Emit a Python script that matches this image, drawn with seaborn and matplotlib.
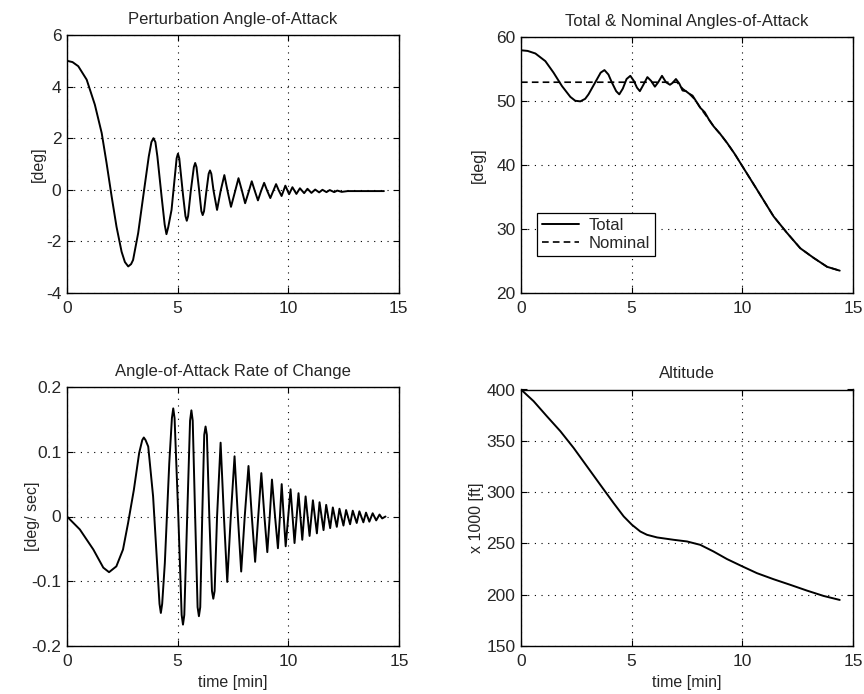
import numpy as np
import pandas as pd
import matplotlib
matplotlib.use("Agg")
import matplotlib.pyplot as plt
import seaborn as sns

# ---------------- data ----------------
pert_t = [0, 0.25, 0.51, 0.89, 1.26, 1.57, 1.79, 2.02, 2.24, 2.47, 2.62, 2.77, 2.9, 2.99, 3.22, 3.49,
          3.70, 3.82, 3.91, 4.0, 4.09, 4.28, 4.42, 4.5, 4.58, 4.73, 4.91, 4.96, 5.02, 5.08, 5.25,
          5.36, 5.42, 5.48, 5.60, 5.74, 5.80, 5.86, 5.97, 6.08, 6.14, 6.20, 6.3, 6.41, 6.47, 6.53,
          6.63, 6.79, 6.95, 7.12, 7.27, 7.42, 7.6, 7.76, 7.92,
          8.06, 8.22, 8.36, 8.5, 8.64, 8.78, 8.92, 9.06, 9.2, 9.34, 9.46, 9.58, 9.71, 9.8, 9.88,
          10.05, 10.2, 10.38, 10.54, 10.73, 10.88, 11.06, 11.23, 11.41, 11.56, 11.74, 11.89,
          12.09, 12.23, 12.43, 12.7, 14.34]
pert_v = [5.0, 4.95, 4.79, 4.27, 3.30, 2.2, 1.04, -0.26, -1.43, -2.40, -2.8, -2.97, -2.88, -2.72, -1.68, 0.0,
          1.29, 1.85, 2.0, 1.85, 1.29, -0.26, -1.35, -1.72, -1.45, -0.78, 0.78, 1.22, 1.40, 1.22, -0.2,
          -1.02, -1.2, -1.02, -0.05, 0.88, 1.04, 0.88, 0.05, -0.83, -0.98, -0.83, -0.1, 0.62, 0.75, 0.62,
          -0.03, -0.78, -0.05, 0.57, -0.07, -0.66, -0.08, 0.45, -0.05,
          -0.52, -0.08, 0.33, -0.05, -0.41, -0.05, 0.27, -0.04, -0.32, -0.03, 0.22, -0.02, -0.24, -0.03, 0.16,
          -0.17, 0.10, -0.16, 0.06, -0.13, 0.04, -0.12, 0.01, -0.10, 0.0, -0.09, -0.01,
          -0.09, -0.03, -0.08, -0.05, -0.05]

total_t = [0, 0.3, 0.65, 1.1, 1.47, 1.85, 2.23, 2.45, 2.68, 2.9, 3.05, 3.43, 3.6, 3.77, 3.95, 4.1, 4.3,
           4.44, 4.6, 4.77, 4.94, 5.1, 5.24, 5.37, 5.53, 5.71, 5.88, 6.05, 6.2, 6.37, 6.55, 6.73,
           6.85, 7.0, 7.15, 7.3, 7.45, 7.6, 7.75, 7.88, 8.1, 8.3, 8.5, 8.7, 9.0, 9.31, 9.65, 10.01,
           10.66, 11.41, 12.02, 12.62, 13.22, 13.83, 14.4]
total_v = [58.0, 57.9, 57.5, 56.3, 54.5, 52.4, 50.7, 50.1, 50.0, 50.4, 51.1, 53.45, 54.5, 54.9, 54.2, 53.0, 51.6,
           51.1, 52.0, 53.5, 54.0, 53.2, 52.15, 51.6, 52.6, 53.8, 53.2, 52.3, 53.0, 54.0, 53.0, 52.6,
           52.9, 53.5, 52.8, 51.7, 51.6, 51.2, 50.9, 50.2, 49.0, 48.3, 47.1, 46.1, 44.9, 43.5, 41.8, 39.8,
           36.2, 32.0, 29.4, 27.0, 25.5, 24.1, 23.5]
nominal_t = [0, 7.05, 7.3, 7.6, 7.88, 8.1, 8.5, 8.7, 9.0, 9.31, 9.65, 10.01, 10.66, 11.41, 12.02,
             12.62, 13.22, 13.83, 14.4]
nominal_v = [53.0, 53.0, 52.0, 51.2, 50.2, 49.0, 47.1, 46.1, 44.9, 43.5, 41.8, 39.8, 36.2, 32.0, 29.4,
             27.0, 25.5, 24.1, 23.5]

rate_t = [0, 0.58, 1.19, 1.64, 1.9, 2.23, 2.53, 2.76, 3.02, 3.26, 3.40, 3.47, 3.55, 3.67, 3.89, 4.07,
          4.18, 4.24, 4.30, 4.42, 4.62, 4.74, 4.8, 4.86, 5.03, 5.18, 5.24, 5.30, 5.43, 5.56, 5.62,
          5.68, 5.79, 5.90, 5.96, 6.02, 6.11, 6.20, 6.26, 6.32, 6.43, 6.55, 6.61, 6.67, 6.78, 6.94, 7.09,
          7.24, 7.4, 7.57, 7.72, 7.87, 8.03, 8.2, 8.35, 8.5, 8.64, 8.78, 8.92, 9.05, 9.16, 9.26,
          9.4, 9.53, 9.62, 9.70, 9.79, 9.88, 10.1, 10.28, 10.46, 10.63, 10.78, 10.96, 11.11, 11.29,
          11.41, 11.59, 11.71, 11.89, 12.01, 12.19, 12.31, 12.49, 12.61, 12.79, 12.91, 13.09, 13.21,
          13.39, 13.51, 13.66, 13.81, 13.97, 14.12, 14.24, 14.39]
rate_v = [0.0, -0.020, -0.051, -0.079, -0.086, -0.077, -0.051, -0.010, 0.041, 0.098, 0.118, 0.122, 0.118,
          0.108, 0.031, -0.072, -0.135, -0.149, -0.135, -0.072, 0.082, 0.152, 0.167, 0.152, 0.0,
          -0.152, -0.167, -0.152, 0.0, 0.148, 0.164, 0.148, 0.0, -0.140, -0.154, -0.140, 0.0,
          0.126, 0.139, 0.126, 0.0, -0.115, -0.127, -0.115, 0.0, 0.114, 0.0,
          -0.101, 0.0, 0.093, 0.0, -0.085, 0.0, 0.078, 0.0,
          -0.070, 0.0, 0.067, 0.0, -0.055, 0.0, 0.057, 0.0, -0.049, 0.0, 0.050, 0.0, -0.046, 0.042,
          -0.041, 0.036, -0.036, 0.031, -0.030, 0.025, -0.026, 0.022, -0.021, 0.018, -0.018, 0.014,
          -0.016, 0.012, -0.014, 0.010, -0.012, 0.009, -0.010, 0.008, -0.009, 0.006, -0.008, 0.005,
          -0.006, 0.003, -0.003, 0.0]

alt_t = [0, 0.57, 1.17, 1.78, 2.38, 2.98, 3.58, 4.18, 4.64, 5.01, 5.39, 5.69, 6.15, 6.9, 7.5, 8.1,
         8.7, 9.31, 10.01, 10.66, 11.41, 12.17, 12.92, 13.67, 14.4]
alt_v = [400, 388.6, 373.9, 359.3, 343.0, 325.1, 307.2, 289.4, 276.3, 268.2, 261.6, 258.4, 255.8,
         253.5, 251.9, 248.6, 242.1, 234.7, 227.5, 221.0, 215.1, 209.6, 204.0, 198.8, 194.9]

x_ticks = [0, 5, 10, 15]

# ---------------- style ----------------
sns.set_style("white")
plt.rcParams["font.family"] = ["Liberation Sans", "DejaVu Sans"]
plt.rcParams["axes.unicode_minus"] = False

fig = plt.figure(figsize=(8.64, 6.94), dpi=100)
W, H = 864.0, 694.0

def box(l, t, r, b):
    return [l / W, 1 - b / H, (r - l) / W, (b - t) / H]

ax_tl = fig.add_axes(box(67, 35, 398.5, 293))
ax_tr = fig.add_axes(box(521, 37.5, 853, 293))
ax_bl = fig.add_axes(box(67, 387, 399, 646))
ax_br = fig.add_axes(box(521, 389.5, 853, 646))

LW = 1.4
df_pert = pd.DataFrame({"t": pert_t, "v": pert_v})
df_tot = pd.DataFrame({"t": total_t, "v": total_v})
df_nom = pd.DataFrame({"t": nominal_t, "v": nominal_v})
df_rate = pd.DataFrame({"t": rate_t, "v": rate_v})
df_alt = pd.DataFrame({"t": alt_t, "v": alt_v})

sns.lineplot(data=df_pert, x="t", y="v", ax=ax_tl, color="black", lw=LW)
sns.lineplot(data=df_tot, x="t", y="v", ax=ax_tr, color="black", lw=LW, label="Total")
sns.lineplot(data=df_nom, x="t", y="v", ax=ax_tr, color="black", lw=1.2, label="Nominal",
             linestyle=(0, (4.0, 2.5)))
sns.lineplot(data=df_rate, x="t", y="v", ax=ax_bl, color="black", lw=LW)
sns.lineplot(data=df_alt, x="t", y="v", ax=ax_br, color="black", lw=LW)

cfg = [
    (ax_tl, "Perturbation Angle-of-Attack", "[deg]", (-4, 6), [-4, -2, 0, 2, 4, 6], ["-4", "-2", "0", "2", "4", "6"], False, -0.063),
    (ax_tr, "Total & Nominal Angles-of-Attack", "[deg]", (20, 60), [20, 30, 40, 50, 60], ["20", "30", "40", "50", "60"], False, -0.105),
    (ax_bl, "Angle-of-Attack Rate of Change", "[deg/ sec]", (-0.2, 0.2), [-0.2, -0.1, 0, 0.1, 0.2], ["-0.2", "-0.1", "0", "0.1", "0.2"], True, -0.081),
    (ax_br, "Altitude", "x 1000 [ft]", (150, 400), [150, 200, 250, 300, 350, 400], ["150", "200", "250", "300", "350", "400"], True, -0.111),
]

for ax, title, ylab, ylim, yt, ytl, xl, ylx in cfg:
    ax.set_xlim(0, 15)
    ax.set_ylim(*ylim)
    ax.set_xticks(x_ticks)
    ax.set_xticklabels([str(v) for v in x_ticks])
    ax.set_yticks(yt)
    ax.set_yticklabels(ytl)
    ax.set_title(title, fontsize=12, pad=8)
    ax.set_ylabel(ylab, fontsize=11.5)
    ax.yaxis.set_label_coords(ylx, 0.5)
    ax.set_xlabel("time [min]" if xl else "", fontsize=11.5, labelpad=4)
    ax.grid(True, color="black", linestyle=(0, (1, 5)), linewidth=0.8)
    ax.tick_params(direction="in", length=4, width=0.8, labelsize=12.5, pad=4, color="black",
                   top=True, right=True, bottom=True, left=True)
    ax.tick_params(axis="x", pad=6)
    for s in ax.spines.values():
        s.set_visible(True)
        s.set_color("black")
        s.set_linewidth(1.0)

leg = ax_tr.legend(loc="upper left", bbox_to_anchor=(0.048, 0.313), borderaxespad=0,
                   fontsize=12, frameon=True, fancybox=False, edgecolor="black", framealpha=1,
                   handlelength=2.2, borderpad=0.3, labelspacing=0.15, handletextpad=0.6)
leg.get_frame().set_linewidth(0.9)

fig.savefig("out.png", dpi=100, facecolor="white")
